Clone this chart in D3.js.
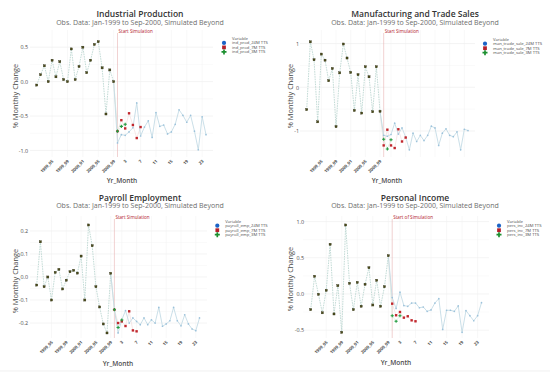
<!DOCTYPE html>
<html>
<head>
<meta charset="utf-8">
<script src="https://cdn.jsdelivr.net/npm/d3@7"></script>
<style>
  body { margin: 0; background: #fff; }
  text { font-family: "Open Sans", "Noto Sans", sans-serif; }
</style>
</head>
<body>
<svg id="chart" width="550" height="376"></svg>
<script>
// x categories: observed months, then simulation steps
const obsMonths = ["1999_01","1999_02","1999_03","1999_04","1999_05","1999_06","1999_07",
  "1999_08","1999_09","1999_10","1999_11","1999_12","2000_01","2000_02","2000_03","2000_04",
  "2000_05","2000_06","2000_07","2000_08","2000_09"];
const simSteps = d3.range(1, 25).map(String);
const categories = obsMonths.concat(simSteps);

const obsTicks = ["1999_05","1999_09","2000_01","2000_05","2000_09"];
const simTicks = ["3","7","11","15","19","23"];

// Industrial Production
const ipObs = [-0.05,0.10,0.23,0.0,0.31,0.07,0.29,0.03,0.0,0.475,0.03,0.22,0.5,0.13,0.31,0.54,0.58,0.2,-0.47,0.17,0.0];
const ip24M = [-0.89,-0.77,-0.78,-0.73,-0.67,-0.31,-0.79,-0.66,-0.57,-0.81,-0.45,-0.65,-0.63,-0.76,-0.73,-0.62,-0.41,-0.49,-0.59,-0.49,-0.72,-0.99,-0.51,-0.77];
const ip7M = [-0.72,-0.56,-0.68,-0.46,-0.63,-0.82,-0.66];
const ip3M = [-0.72,-0.65,-0.62];

// Manufacturing and Trade Sales
const mtsObs = [-0.51,1.04,0.63,-0.79,0.76,0.62,0.15,0.43,-0.9,0.33,0.99,0.67,0.34,-0.53,0.29,-0.59,0.47,0.24,-0.56,0.47,-0.55];
const mts24M = [-1.10,-1.12,-1.08,-0.82,-1.07,-0.93,-1.14,-1.43,-1.05,-1.24,-1.10,-1.22,-1.10,-0.89,-0.93,-1.33,-1.05,-0.95,-1.10,-1.13,-1.02,-1.43,-0.96,-0.99];
const mts7M = [-1.33,-0.97,-1.33,-1.39,-0.96,-1.24,-1.15];
const mts3M = [-1.19,-1.41,-1.2];

// Payroll Employment
const peObs = [-0.035,0.153,-0.042,0.0,-0.10,0.02,0.033,-0.052,-0.014,0.023,0.029,0.017,0.091,-0.10,0.226,0.136,-0.042,-0.13,-0.204,-0.243,0.016];
const pe24M = [-0.142,-0.243,-0.186,-0.146,-0.2,-0.178,-0.193,-0.207,-0.178,-0.207,-0.186,-0.2,-0.132,-0.214,-0.204,-0.19,-0.132,-0.19,-0.212,-0.164,-0.204,-0.226,-0.233,-0.178];
const pe7M = [-0.142,-0.2,-0.193,-0.213,-0.149,-0.232,-0.236];
const pe3M = [-0.142,-0.219,-0.187];

// Personal Income
const piObs = [-0.216,0.244,-0.005,-0.26,0.05,0.686,-0.276,0.115,-0.53,0.953,0.147,-0.216,0.16,-0.17,0.134,0.363,-0.152,0.189,-0.17,0.1,0.529];
const pi24M = [-0.05,-0.2,0.025,-0.16,-0.17,-0.125,-0.125,-0.19,-0.18,-0.24,-0.22,-0.125,-0.065,-0.49,-0.225,-0.225,-0.24,-0.165,-0.53,-0.23,-0.30,-0.37,-0.30,-0.12];
const pi7M = [-0.134,-0.294,-0.249,-0.327,-0.308,-0.364,-0.377];
const pi3M = [-0.30,-0.377,-0.30];

const subtitle = "Obs. Data: Jan-1999 to Sep-2000, Simulated Beyond";
const legendSuffix = ["_24M TTS", "_7M TTS", "_3M TTS"];

const panels = [
  { title: "Industrial Production", prefix: "ind_prod", obs: ipObs, s24: ip24M, s7: ip7M, s3: ip3M,
    yTicks: [-1, -0.5, 0, 0.5], fmt: ".1f", simLabel: "Start Simulation", ticks: obsTicks.concat(simTicks) },
  { title: "Manufacturing and Trade Sales", prefix: "man_trade_sale", obs: mtsObs, s24: mts24M, s7: mts7M, s3: mts3M,
    yTicks: [-1, 0, 1], fmt: "d", simLabel: "Start Simulation", ticks: obsTicks },
  { title: "Payroll Employment", prefix: "payroll_emp", obs: peObs, s24: pe24M, s7: pe7M, s3: pe3M,
    yTicks: [-0.2, -0.1, 0, 0.1, 0.2], fmt: ".1f", simLabel: "Start Simulation", ticks: obsTicks.concat(simTicks) },
  { title: "Personal Income", prefix: "pers_inc", obs: piObs, s24: pi24M, s7: pi7M, s3: pi3M,
    yTicks: [-0.5, 0, 0.5, 1], fmt: ".1f", simLabel: "Start of Simulation", ticks: obsTicks.concat(simTicks) }
];

// layout for each panel (panel-local pixels)
const layouts = [
  { ox: 0,   oy: 0,   xr: [36.7, 206], px: [30, 213], yd: [-1.095, 0.75], yr: [157, 30], tY: 16.5, sY: 24.5,
    yLabX: 28, yTitX: 15, yTitY: 96, xTitX: 122, xTitY: 183, legX: 224, legY: 38.5 },
  { ox: 275, oy: 0,   xr: [31.7, 193], px: [25, 200], yd: [-1.595, 1.311], yr: [157, 30], tY: 16.5, sY: 24.5,
    yLabX: 24, yTitX: 15, yTitY: 96, xTitX: 112, xTitY: 183, legX: 210, legY: 39.3 },
  { ox: 0,   oy: 188, xr: [36.7, 199.5], px: [30, 207], yd: [-0.265, 0.265], yr: [150, 28], tY: 12.5, sY: 20,
    yLabX: 28, yTitX: 15, yTitY: 93, xTitX: 118, xTitY: 178, legX: 217.3, legY: 33.3 },
  { ox: 275, oy: 188, xr: [35.7, 206.5], px: [28, 214], yd: [-0.608, 1.077], yr: [150, 28], tY: 12.5, sY: 20,
    yLabX: 29, yTitX: 15, yTitY: 91, xTitX: 121, xTitY: 177, legX: 224, legY: 33.3 }
];

const svg = d3.select("#chart");

svg.append("line")
  .attr("x1", 0).attr("x2", 550).attr("y1", 371).attr("y2", 371)
  .attr("stroke", "#e6e6e6").attr("stroke-width", 0.6);

panels.forEach((p, i) => drawPanel(p, layouts[i]));

function drawPanel(p, L) {
  const g = svg.append("g").attr("transform", `translate(${L.ox},${L.oy})`);

  const x = d3.scalePoint().domain(categories).range(L.xr);
  const y = d3.scaleLinear().domain(L.yd).range(L.yr);
  const fmt = v => d3.format(p.fmt)(v).replace("\u2212", "-");

  // grid
  const minor = d3.range(p.yTicks.length - 1).map(k => (p.yTicks[k] + p.yTicks[k + 1]) / 2);
  g.append("g").selectAll("line").data(minor).join("line")
    .attr("x1", L.px[0]).attr("x2", L.px[1])
    .attr("y1", d => y(d)).attr("y2", d => y(d))
    .attr("stroke", "#f5f5f5").attr("stroke-width", 0.5);
  g.append("g").selectAll("line").data(p.yTicks).join("line")
    .attr("x1", L.px[0]).attr("x2", L.px[1])
    .attr("y1", d => y(d)).attr("y2", d => y(d))
    .attr("stroke", "#ececec").attr("stroke-width", 0.6);
  g.append("g").selectAll("line").data(obsTicks.concat(simTicks)).join("line")
    .attr("x1", d => x(d)).attr("x2", d => x(d))
    .attr("y1", L.yr[1]).attr("y2", L.yr[0])
    .attr("stroke", "#f0f0f0").attr("stroke-width", 0.5);

  // start of simulation marker
  const xs = x(simSteps[0]);
  g.append("line")
    .attr("x1", xs).attr("x2", xs).attr("y1", L.yr[1] + 3).attr("y2", L.yr[0])
    .attr("stroke", "#e8b4b4").attr("stroke-width", 0.6);
  g.append("text")
    .attr("x", xs + 1).attr("y", L.yr[1] + 3)
    .attr("font-size", 4.6).attr("fill", "#b2182b")
    .text(p.simLabel);

  const obsPts = p.obs.map((v, k) => ({ c: obsMonths[k], v }));
  const last = obsPts[obsPts.length - 1];
  const sim = arr => arr.map((v, k) => ({ c: simSteps[k], v }));
  const line = d3.line().x(d => x(d.c)).y(d => y(d.v));

  // lines
  g.append("path").attr("d", line([last].concat(sim(p.s7))))
    .attr("fill", "none").attr("stroke", "#f1d9d9").attr("stroke-width", 0.6);
  g.append("path").attr("d", line([last].concat(sim(p.s3))))
    .attr("fill", "none").attr("stroke", "#d9ebdc").attr("stroke-width", 0.6);
  g.append("path").attr("d", line([last].concat(sim(p.s24))))
    .attr("fill", "none").attr("stroke", "#c4dbe5").attr("stroke-width", 0.9);
  g.append("path").attr("d", line(obsPts))
    .attr("fill", "none").attr("stroke", "#b4d2cc").attr("stroke-width", 0.8)
    .attr("stroke-dasharray", "1.6,0.9");

  // points
  g.append("g").selectAll("circle").data(sim(p.s24)).join("circle")
    .attr("cx", d => x(d.c)).attr("cy", d => y(d.v)).attr("r", 0.85)
    .attr("fill", "#9cc2db");
  g.append("g").selectAll("rect").data(obsPts).join("rect")
    .attr("x", d => x(d.c) - 1.05).attr("y", d => y(d.v) - 1.05)
    .attr("width", 2.1).attr("height", 2.1)
    .attr("fill", "#4e4e1c").attr("stroke", "#26270e").attr("stroke-width", 0.35);
  g.append("g").selectAll("rect").data(sim(p.s7)).join("rect")
    .attr("x", d => x(d.c) - 1.2).attr("y", d => y(d.v) - 1.2)
    .attr("width", 2.4).attr("height", 2.4)
    .attr("fill", "#c1272d");
  g.append("g").selectAll("path").data(sim(p.s3)).join("path")
    .attr("transform", d => `translate(${x(d.c)},${y(d.v)})`)
    .attr("d", d3.symbol(d3.symbolCross, 5.5))
    .attr("fill", "#1f9a3c");

  // axes
  const ya = g.append("g").attr("transform", `translate(${L.yLabX},0)`)
    .call(d3.axisLeft(y).tickValues(p.yTicks).tickSize(0).tickPadding(0).tickFormat(fmt));
  ya.select(".domain").remove();
  ya.selectAll("text").attr("font-size", 5.4).attr("fill", "#4d4d4d")
    .style("font-family", "'Open Sans', sans-serif");

  const xa = g.append("g").attr("transform", `translate(0,${L.yr[0] + 2})`)
    .call(d3.axisBottom(x).tickValues(p.ticks).tickSize(0).tickPadding(0));
  xa.select(".domain").remove();
  xa.selectAll("text")
    .attr("font-size", 4.3).attr("font-weight", 700).attr("fill", "#4d4d4d")
    .style("font-family", "'Open Sans', sans-serif")
    .attr("text-anchor", "end").attr("dy", "0.6em").attr("dx", "-0.2em")
    .attr("transform", "rotate(-45)");

  // titles
  g.append("text").attr("x", 140).attr("y", L.tY).attr("text-anchor", "middle")
    .attr("font-size", 8.5).attr("font-weight", 600).attr("fill", "#333")
    .text(p.title);
  g.append("text").attr("x", 140).attr("y", L.sY).attr("text-anchor", "middle")
    .attr("font-size", 7).attr("fill", "#6e6e6e")
    .text(subtitle);
  g.append("text").attr("transform", `translate(${L.yTitX},${L.yTitY}) rotate(-90)`)
    .attr("text-anchor", "middle").attr("dy", "0.35em")
    .attr("font-size", 7.4).attr("fill", "#4a4a4a")
    .text("% Monthly Change");
  g.append("text").attr("x", L.xTitX).attr("y", L.xTitY).attr("text-anchor", "middle")
    .attr("font-size", 6.6).attr("font-weight", 600).attr("fill", "#4d4d4d")
    .text("Yr_Month");

  // legend
  const lg = g.append("g").attr("transform", `translate(${L.legX},${L.legY})`);
  lg.append("text").attr("x", 8).attr("y", 1.5).attr("font-size", 4.2).attr("fill", "#4d4d4d").text("Variable");
  const symbols = [d3.symbolCircle, d3.symbolSquare, d3.symbolCross];
  const colors = ["#1b63c6", "#b3202a", "#1b8f2e"];
  legendSuffix.forEach((s, k) => {
    const yy = 4.4 + k * 4.5;
    lg.append("path").attr("transform", `translate(0,${yy})`)
      .attr("d", d3.symbol(symbols[k], 14)).attr("fill", colors[k]);
    lg.append("text").attr("x", 8).attr("y", yy).attr("dy", "0.35em")
      .attr("font-size", 4.2).attr("fill", "#4d4d4d").text(p.prefix + s);
  });
}
</script>
</body>
</html>
